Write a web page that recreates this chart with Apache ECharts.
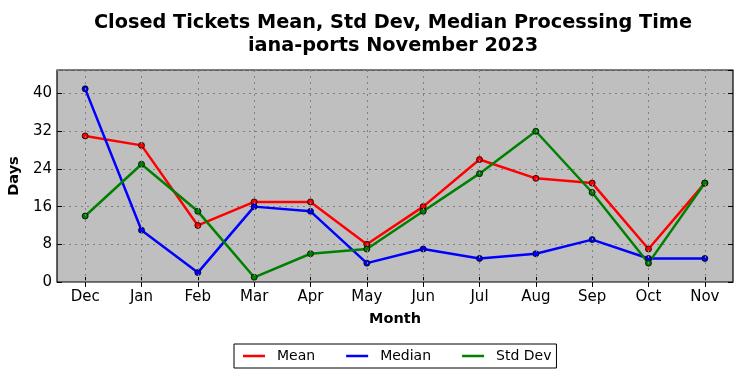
<!DOCTYPE html>
<html><head><meta charset="utf-8">
<script src="https://cdn.jsdelivr.net/npm/echarts@6/dist/echarts.min.js"></script>
<style>html,body{margin:0;padding:0;background:#fff}#c{width:742px;height:378px}</style>
</head><body><div id="c"></div>
<script>
const categories = ['Dec','Jan','Feb','Mar','Apr','May','Jun','Jul','Aug','Sep','Oct','Nov'];
const meanValues = [31, 29, 12, 17, 17, 8, 16, 26, 22, 21, 7, 21];
const medianValues = [41, 11, 2, 16, 15, 4, 7, 5, 6, 9, 5, 5];
const stdValues = [14, 25, 15, 1, 6, 7, 15, 23, 32, 19, 4, 21];
const yTicks = [0, 8, 16, 24, 32, 40];

const font = 'DejaVu Sans';
function series(name, data, color) {
  return {
    name, type: 'line', data,
    symbol: 'circle', symbolSize: 6,
    lineStyle: {color, width: 2.5},
    itemStyle: {color, borderColor: '#000', borderWidth: 0.8},
    emphasis: {disabled: true}
  };
}
const chart = echarts.init(document.getElementById('c'));
chart.setOption({
  animation: false,
  title: {
    text: 'Closed Tickets Mean, Std Dev, Median Processing Time\niana-ports November 2023',
    left: 388, top: 6, textAlign: 'center',
    textStyle: {fontFamily: font, fontWeight: 'bold', fontSize: 19.3, color: '#000', lineHeight: 23}
  },
  legend: {
    bottom: 10, left: 234,
    itemGap: 31, itemWidth: 22, itemHeight: 2.5,
    padding: [5, 5, 5, 9],
    borderColor: '#000', borderWidth: 1, borderRadius: 0,
    icon: 'rect',
    itemStyle: {borderWidth: 0},
    textStyle: {fontFamily: font, fontSize: 14, color: '#000', padding: [0, 0, 0, 7]},
    data: ['Mean', 'Median', 'Std Dev']
  },
  grid: {left: 57, right: 9, top: 70, bottom: 96, outerBoundsMode: 'none', containLabel: false,
    backgroundColor: '#bfbfbf', show: true, borderColor: '#000', borderWidth: 1.2},
  xAxis: [{
    type: 'category', data: categories, boundaryGap: true,
    name: 'Month', nameLocation: 'middle', nameGap: 30,
    nameTextStyle: {fontFamily: font, fontWeight: 'bold', fontSize: 14.5, color: '#000'},
    axisLine: {show: false},
    axisTick: {show: true, inside: true, alignWithLabel: true, length: 5, lineStyle: {color: '#000'}},
    axisLabel: {fontFamily: font, fontSize: 15, color: '#000', margin: 8},
    splitLine: {show: false}
  }, {
    type: 'category', data: categories, boundaryGap: true, position: 'top',
    axisLine: {show: false},
    axisTick: {show: true, inside: true, alignWithLabel: true, length: 5, lineStyle: {color: '#000'}},
    axisLabel: {show: false}, splitLine: {show: false}
  }],
  yAxis: [{
    type: 'value', min: 0, max: 45, interval: 8,
    name: 'Days', nameLocation: 'middle', nameGap: 33,
    nameTextStyle: {fontFamily: font, fontWeight: 'bold', fontSize: 14.5, color: '#000'},
    axisLine: {show: false},
    axisTick: {show: true, inside: true, length: 5, lineStyle: {color: '#000'}},
    axisLabel: {fontFamily: font, fontSize: 15, color: '#000', margin: 5, showMaxLabel: false,
      formatter: v => yTicks.includes(v) ? String(v) : ''},
    splitLine: {show: true, lineStyle: {color: '#808080', type: [2, 4], width: 1}}
  }, {
    type: 'value', min: 0, max: 45, interval: 8, position: 'right',
    axisLine: {show: false},
    axisTick: {show: true, inside: true, length: 5, lineStyle: {color: '#000'}},
    axisLabel: {show: false}, splitLine: {show: false}
  }],
  series: [
    {
      name: 'grid-x', type: 'line', data: [], z: 1, silent: true,
      markLine: {
        silent: true, symbol: 'none', label: {show: false},
        lineStyle: {color: '#808080', type: [2, 4], width: 1},
        data: categories.map(c => ({xAxis: c}))
      }
    },
    series('Mean', meanValues, '#ff0000'),
    series('Median', medianValues, '#0000ff'),
    series('Std Dev', stdValues, '#008000')
  ]
});
</script></body></html>
